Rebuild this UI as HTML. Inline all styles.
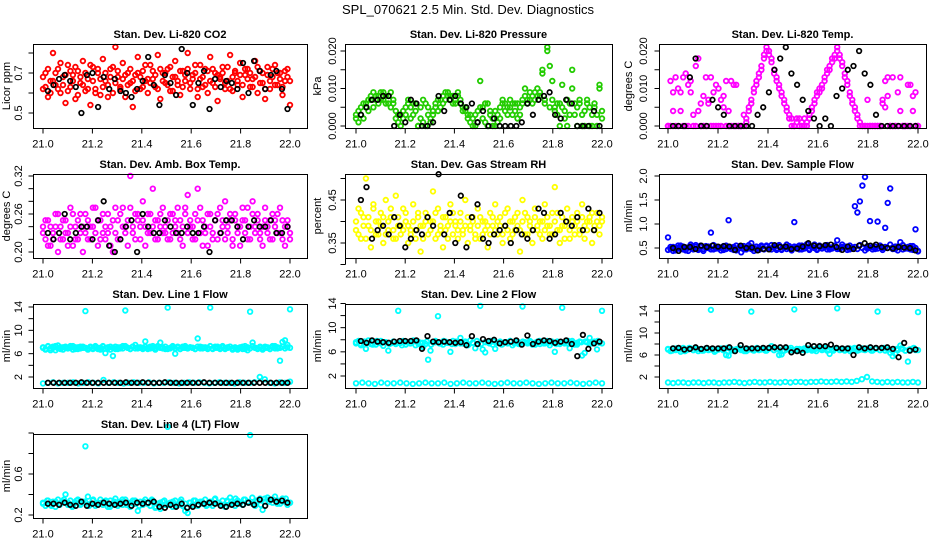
<!DOCTYPE html>
<html><head><meta charset="utf-8"><style>
html,body{margin:0;padding:0;background:#fff;}
svg{display:block;font-family:"Liberation Sans",Arial,sans-serif;}
</style></head><body>
<svg id="chart" width="936" height="540" viewBox="0 0 936 540" xmlns="http://www.w3.org/2000/svg">
<text x="468" y="14" text-anchor="middle" font-size="13">SPL_070621  2.5 Min. Std. Dev. Diagnostics</text>
</svg>
<script>
const xTicks=[21.0,21.2,21.4,21.6,21.8,22.0];
const xTickLabels=["21.0","21.2","21.4","21.6","21.8","22.0"];

const co2Red=[0.62,0.70,0.58,0.66,0.80,0.64,0.72,0.60,0.68,0.55,0.74,0.63,0.69,0.57,0.71,0.65,0.76,0.61,0.67,0.54,0.73,0.62,0.70,0.59,0.77,0.66,0.64,0.72,0.60,0.83,0.68,0.63,0.75,0.58,0.70,0.65,0.53,0.69,0.78,0.62,0.71,0.66,0.60,0.74,0.67,0.63,0.79,0.57,0.70,0.65,0.72,0.61,0.68,0.76,0.64,0.59,0.71,0.66,0.80,0.62,0.69,0.74,0.58,0.67,0.63,0.72,0.60,0.78,0.65,0.70,0.56,0.68,0.73,0.62,0.66,0.79,0.61,0.70,0.64,0.75,0.58,0.69,0.72,0.63,0.67,0.76,0.60,0.71,0.65,0.57,0.73,0.62,0.68,0.74,0.64,0.70,0.59,0.66,0.72,0.54];
const co2Red2=[0.68,0.63,0.72,0.60,0.66,0.70,0.62,0.75,0.64,0.69,0.61,0.71,0.66,0.73,0.59,0.68,0.64,0.70,0.62,0.74,0.66,0.60,0.72,0.67,0.63,0.70,0.58,0.68,0.73,0.65,0.71,0.62,0.67,0.69,0.64,0.72,0.66,0.61,0.70,0.68,0.63,0.74,0.67,0.65,0.71,0.69,0.62,0.72,0.66,0.70,0.64,0.73,0.61,0.68,0.66,0.71,0.63,0.69,0.72,0.65,0.67,0.70,0.62,0.74,0.68,0.64,0.71,0.66,0.72,0.63,0.69,0.67,0.70,0.65,0.73,0.62,0.68,0.71,0.66,0.69,0.64,0.72,0.67,0.70,0.63,0.68,0.73,0.65,0.70,0.62,0.69,0.66,0.72,0.64,0.70,0.67,0.63,0.71,0.68,0.66];
const co2Black=[0.61,0.64,0.67,0.69,0.66,0.63,0.50,0.69,0.70,0.53,0.68,0.62,0.67,0.61,0.60,0.58,0.62,0.66,0.78,0.64,0.54,0.69,0.65,0.59,0.82,0.70,0.54,0.65,0.71,0.52,0.67,0.63,0.66,0.65,0.62,0.75,0.60,0.76,0.71,0.62,0.69,0.71,0.62,0.52];

const presGreen=[0.003,0.001,0.005,0.002,0.006,0.004,0.007,0.005,0.008,0.006,0.009,0.007,0.008,0.006,0.009,0.007,0.004,0.001,0.003,0.002,0.005,0.006,0.002,0.006,0.004,0.000,0.005,0.001,0.006,0.003,0.002,0.004,0.006,0.007,0.005,0.008,0.007,0.009,0.008,0.006,0.007,0.009,0.006,0.005,0.004,0.003,0.001,0.002,0.000,0.004,0.012,0.005,0.001,0.006,0.003,0.000,0.004,0.001,0.002,0.006,0.004,0.005,0.007,0.003,0.006,0.002,0.005,0.007,0.010,0.006,0.007,0.008,0.009,0.010,0.008,0.015,0.006,0.020,0.016,0.012,0.005,0.003,0.006,0.011,0.004,0.000,0.006,0.015,0.003,0.005,0.007,0.000,0.004,0.006,0.000,0.003,0.005,0.000,0.011,0.004];
const presGreen2=[0.002,0.004,0.003,0.006,0.005,0.007,0.008,0.009,0.007,0.008,0.007,0.009,0.006,0.008,0.005,0.006,0.002,0.003,0.000,0.004,0.003,0.007,0.005,0.003,0.006,0.000,0.002,0.007,0.000,0.005,0.001,0.003,0.005,0.004,0.007,0.006,0.009,0.008,0.007,0.008,0.006,0.008,0.007,0.004,0.005,0.002,0.003,0.000,0.003,0.001,0.005,0.002,0.006,0.000,0.004,0.002,0.000,0.003,0.005,0.007,0.006,0.003,0.005,0.006,0.004,0.006,0.003,0.006,0.008,0.007,0.009,0.006,0.007,0.008,0.009,0.014,0.007,0.021,0.005,0.007,0.004,0.006,0.000,0.005,0.002,0.007,0.003,0.010,0.006,0.000,0.006,0.003,0.000,0.007,0.005,0.000,0.006,0.003,0.010,0.002];
const presBlack=[0.003,0.005,0.007,0.007,0.008,0.008,0.000,0.003,0.001,0.007,0.006,0.000,0.000,0.001,0.008,0.004,0.007,0.008,0.006,0.005,0.006,0.001,0.004,0.000,0.002,0.000,0.000,0.000,0.000,0.001,0.006,0.003,0.007,0.008,0.009,0.003,0.002,0.007,0.006,0.000,0.000,0.000,0.004,0.000];

const tempMag=[0.000,0.012,0.009,0.000,0.010,0.004,0.013,0.000,0.011,0.009,0.000,0.016,0.004,0.000,0.008,0.013,0.006,0.000,0.009,0.011,0.000,0.007,0.008,0.000,0.004,0.012,0.000,0.011,0.000,0.000,0.000,0.002,0.004,0.006,0.009,0.011,0.013,0.015,0.018,0.020,0.019,0.017,0.015,0.012,0.010,0.008,0.006,0.004,0.003,0.002,0.000,0.001,0.002,0.001,0.000,0.001,0.003,0.005,0.007,0.008,0.009,0.011,0.012,0.014,0.016,0.017,0.019,0.020,0.019,0.017,0.014,0.011,0.008,0.006,0.004,0.002,0.000,0.000,0.000,0.007,0.000,0.000,0.000,0.000,0.000,0.006,0.012,0.008,0.000,0.013,0.000,0.009,0.004,0.000,0.000,0.000,0.011,0.004,0.009,0.000];
const tempMag2=[0.000,0.000,0.004,0.013,0.000,0.009,0.000,0.014,0.000,0.012,0.003,0.000,0.018,0.006,0.000,0.000,0.007,0.013,0.000,0.000,0.010,0.000,0.005,0.012,0.000,0.000,0.011,0.000,0.000,0.000,0.003,0.001,0.005,0.007,0.010,0.012,0.014,0.016,0.019,0.021,0.020,0.018,0.014,0.013,0.011,0.009,0.007,0.005,0.002,0.000,0.000,0.002,0.000,0.000,0.002,0.000,0.002,0.004,0.006,0.009,0.010,0.010,0.013,0.015,0.015,0.018,0.018,0.021,0.018,0.016,0.013,0.012,0.009,0.007,0.005,0.003,0.001,0.000,0.000,0.000,0.000,0.000,0.000,0.000,0.000,0.007,0.005,0.013,0.000,0.000,0.000,0.000,0.013,0.000,0.000,0.011,0.000,0.008,0.000,0.000];
const tempBlack=[0.000,0.000,0.000,0.013,0.018,0.000,0.000,0.007,0.005,0.003,0.000,0.000,0.000,0.000,0.000,0.003,0.005,0.009,0.015,0.018,0.021,0.014,0.011,0.007,0.004,0.002,0.000,0.002,0.000,0.008,0.010,0.015,0.016,0.020,0.014,0.011,0.003,0.000,0.000,0.000,0.000,0.000,0.000,0.000];

const ambMag=[0.24,0.22,0.25,0.21,0.23,0.26,0.20,0.24,0.22,0.25,0.23,0.27,0.21,0.24,0.22,0.26,0.20,0.23,0.25,0.22,0.24,0.27,0.21,0.25,0.23,0.22,0.26,0.24,0.20,0.23,0.25,0.22,0.27,0.24,0.21,0.32,0.23,0.26,0.25,0.22,0.28,0.24,0.26,0.23,0.30,0.25,0.22,0.24,0.27,0.23,0.25,0.22,0.26,0.24,0.23,0.25,0.21,0.27,0.29,0.24,0.22,0.26,0.30,0.23,0.25,0.24,0.21,0.26,0.23,0.25,0.22,0.27,0.24,0.28,0.23,0.25,0.22,0.26,0.24,0.21,0.25,0.23,0.27,0.22,0.28,0.24,0.26,0.23,0.21,0.25,0.24,0.22,0.26,0.25,0.23,0.27,0.22,0.24,0.25,0.23];
const ambMag2=[0.23,0.25,0.21,0.24,0.22,0.24,0.26,0.22,0.25,0.23,0.21,0.24,0.26,0.22,0.25,0.23,0.24,0.26,0.22,0.24,0.27,0.23,0.25,0.22,0.26,0.24,0.23,0.21,0.25,0.27,0.22,0.26,0.24,0.23,0.25,0.27,0.24,0.22,0.26,0.24,0.25,0.21,0.23,0.26,0.24,0.22,0.25,0.26,0.23,0.24,0.22,0.26,0.23,0.25,0.27,0.22,0.24,0.26,0.23,0.25,0.24,0.22,0.25,0.27,0.21,0.23,0.26,0.24,0.22,0.25,0.26,0.23,0.25,0.22,0.24,0.26,0.21,0.25,0.23,0.24,0.27,0.25,0.22,0.24,0.26,0.23,0.25,0.22,0.24,0.27,0.23,0.25,0.22,0.24,0.26,0.23,0.25,0.21,0.24,0.22];
const ambBlack=[0.23,0.22,0.23,0.26,0.22,0.23,0.24,0.24,0.22,0.25,0.28,0.21,0.20,0.22,0.24,0.25,0.20,0.26,0.24,0.23,0.23,0.25,0.24,0.23,0.23,0.24,0.23,0.23,0.24,0.20,0.25,0.23,0.25,0.25,0.24,0.22,0.24,0.25,0.24,0.24,0.25,0.23,0.23,0.24];

const rhYellow=[0.38,0.43,0.36,0.41,0.50,0.39,0.34,0.44,0.37,0.40,0.42,0.35,0.45,0.38,0.41,0.36,0.46,0.39,0.37,0.43,0.40,0.35,0.38,0.44,0.36,0.41,0.33,0.39,0.42,0.37,0.40,0.47,0.36,0.43,0.38,0.34,0.41,0.39,0.44,0.37,0.40,0.36,0.42,0.38,0.45,0.35,0.39,0.41,0.37,0.43,0.36,0.40,0.38,0.34,0.42,0.39,0.44,0.37,0.41,0.35,0.39,0.43,0.36,0.40,0.38,0.42,0.33,0.45,0.37,0.41,0.39,0.35,0.43,0.38,0.40,0.36,0.44,0.39,0.37,0.42,0.48,0.38,0.35,0.41,0.39,0.43,0.36,0.40,0.37,0.42,0.38,0.44,0.36,0.40,0.41,0.35,0.39,0.42,0.37,0.40];
const rhYellow2=[0.40,0.37,0.42,0.39,0.36,0.41,0.38,0.43,0.40,0.37,0.39,0.41,0.37,0.40,0.43,0.38,0.36,0.41,0.39,0.38,0.42,0.39,0.37,0.40,0.38,0.42,0.39,0.36,0.40,0.41,0.38,0.40,0.42,0.37,0.39,0.41,0.38,0.36,0.40,0.42,0.39,0.38,0.40,0.37,0.39,0.41,0.38,0.40,0.36,0.39,0.41,0.37,0.40,0.39,0.37,0.41,0.38,0.40,0.39,0.37,0.42,0.38,0.40,0.37,0.41,0.39,0.38,0.40,0.42,0.37,0.40,0.38,0.41,0.39,0.37,0.40,0.38,0.41,0.39,0.37,0.40,0.42,0.38,0.39,0.36,0.40,0.38,0.41,0.39,0.40,0.37,0.41,0.39,0.38,0.40,0.42,0.38,0.40,0.39,0.41];
const rhBlack=[0.45,0.48,0.36,0.38,0.39,0.37,0.41,0.39,0.34,0.36,0.38,0.37,0.41,0.39,0.51,0.37,0.42,0.35,0.46,0.34,0.41,0.44,0.36,0.35,0.37,0.38,0.39,0.35,0.38,0.37,0.36,0.38,0.43,0.42,0.36,0.37,0.42,0.40,0.39,0.41,0.38,0.43,0.38,0.42];

const flowBlue=[0.72,0.48,0.52,0.45,0.50,0.55,0.47,0.51,0.44,0.53,0.49,0.56,0.46,0.52,0.48,0.54,0.50,0.82,0.47,0.53,0.49,0.51,0.46,0.55,1.08,0.48,0.52,0.45,0.50,0.41,0.54,0.47,0.51,0.60,0.49,0.53,0.46,0.52,0.48,0.55,0.50,0.47,0.53,0.49,0.56,0.46,0.51,0.48,0.54,0.50,1.04,0.52,0.47,0.55,0.49,0.53,0.46,0.51,0.57,0.48,0.52,0.50,0.54,0.47,0.51,0.49,0.55,0.66,0.48,0.52,0.50,0.53,0.47,0.51,1.37,1.24,1.47,1.80,1.98,0.49,1.06,0.52,0.48,1.05,0.54,0.50,0.92,1.44,1.74,0.51,0.48,0.53,0.62,0.47,0.51,0.49,0.54,0.46,0.89,0.44];
const flowBlue2=[0.46,0.52,0.44,0.50,0.55,0.48,0.53,0.45,0.51,0.57,0.47,0.52,0.49,0.55,0.44,0.50,0.53,0.47,0.56,0.49,0.51,0.45,0.54,0.48,0.52,0.50,0.46,0.55,0.49,0.53,0.47,0.51,0.56,0.48,0.44,0.52,0.50,0.55,0.47,0.53,0.49,0.56,0.51,0.46,0.54,0.48,0.52,0.57,0.50,0.45,0.53,0.49,0.55,0.47,0.51,0.58,0.48,0.53,0.50,0.46,0.55,0.49,0.52,0.56,0.47,0.51,0.54,0.48,0.50,0.57,0.53,0.46,0.55,0.49,0.52,0.48,0.56,0.50,0.45,0.54,0.51,0.47,0.53,0.49,0.55,0.46,0.52,0.50,0.57,0.48,0.53,0.45,0.51,0.56,0.49,0.52,0.47,0.54,0.50,0.43];
const flowBlack=[0.50,0.44,0.52,0.52,0.48,0.55,0.52,0.55,0.53,0.54,0.53,0.46,0.55,0.50,0.51,0.45,0.48,0.47,0.56,0.52,0.53,0.48,0.49,0.53,0.60,0.55,0.54,0.56,0.57,0.52,0.46,0.53,0.48,0.55,0.60,0.55,0.57,0.52,0.50,0.49,0.52,0.51,0.50,0.45];

const l1Cyan=[7.0,6.7,7.3,6.9,7.2,6.6,7.4,6.8,7.1,7.0,6.9,7.3,6.7,7.1,6.8,7.2,7.0,13.3,6.9,7.2,6.8,7.1,7.0,6.7,7.3,6.1,6.9,7.2,5.6,6.8,7.1,6.9,7.3,13.4,7.0,6.8,7.2,7.5,6.9,7.1,7.0,8.1,6.8,7.2,7.0,6.9,7.3,7.9,7.0,6.8,13.9,6.9,7.1,6.0,7.2,6.8,7.0,7.3,6.9,7.1,7.0,6.8,8.6,7.2,6.9,7.1,7.0,13.9,6.8,7.2,7.0,6.9,7.3,6.8,7.1,7.2,6.9,7.0,6.7,7.1,6.8,7.3,6.6,13.2,7.9,7.0,6.9,7.2,6.7,7.0,7.1,6.8,7.3,6.9,7.1,4.8,8.0,8.3,7.5,13.6];
const l1Cyan2=[7.1,6.8,7.2,6.6,7.0,7.3,6.9,7.1,6.7,7.2,6.9,7.0,7.3,6.8,7.1,6.9,7.2,7.0,6.7,7.1,6.9,7.3,6.8,7.0,7.2,6.9,7.1,6.7,7.0,7.2,6.8,7.1,6.9,7.3,7.0,6.8,7.2,6.9,7.1,7.0,6.8,7.2,7.0,6.9,7.3,6.7,7.1,7.0,6.9,7.2,6.8,7.0,7.3,6.9,7.1,6.8,7.2,7.0,6.9,7.1,7.0,6.8,7.2,6.9,7.1,7.0,6.8,7.3,6.9,7.0,7.2,6.8,7.1,6.9,7.0,7.2,6.7,7.1,6.9,7.0,7.2,6.8,7.1,6.9,7.3,7.0,6.8,7.1,6.9,7.2,7.0,6.8,7.1,7.3,6.9,7.0,7.2,6.9,7.1,7.0];
const l1Low=[0.9,1.0,1.1,0.9,1.0,1.0,1.1,0.9,1.0,1.1,1.0,0.9,1.5,1.0,1.1,1.0,0.9,1.0,1.1,1.0,1.0,1.1,0.9,1.0,1.0,1.1,1.0,0.9,1.0,1.1,1.0,1.1,1.0,0.9,1.0,1.1,1.0,1.0,0.9,1.1,1.0,1.0,1.1,2.0,1.6,1.0,0.9,1.1,1.0,1.2];
const l1Black=[1.0,1.0,1.0,1.0,1.0,1.0,1.1,1.0,1.0,1.0,1.0,1.0,1.0,1.0,1.1,1.0,1.0,1.1,1.0,1.0,1.0,1.1,1.0,1.0,1.0,1.0,1.0,1.0,1.1,1.0,1.0,1.0,1.0,1.0,1.0,1.0,1.0,1.0,1.0,1.0,1.0,1.0,1.0,1.0];

const l2Cyan=[7.4,7.8,7.1,7.6,6.5,7.9,7.3,7.7,7.2,7.5,7.8,7.0,7.6,6.2,7.4,7.7,7.3,12.8,7.5,7.8,7.2,7.6,7.4,7.9,7.1,7.7,7.5,6.8,7.3,4.7,6.2,7.6,7.8,11.9,7.4,7.2,7.7,7.5,6.0,7.8,7.3,7.6,8.3,7.4,7.7,7.1,7.9,7.5,6.6,7.3,13.6,6.4,5.9,7.6,7.8,7.2,6.5,7.5,7.7,7.3,7.6,7.4,7.8,7.1,7.5,7.7,7.3,13.5,7.6,7.4,7.8,7.2,7.5,7.7,7.3,7.6,7.4,7.8,7.1,7.5,6.0,7.7,7.3,13.3,7.6,7.4,6.6,7.8,7.2,7.5,7.7,5.4,5.8,7.6,8.3,7.4,7.7,6.4,7.5,12.8];
const l2Cyan2=[7.6,7.3,7.7,7.5,7.2,7.8,7.4,7.6,7.3,7.7,7.5,7.1,7.6,7.4,7.8,7.3,7.5,7.7,7.2,7.6,7.4,7.8,7.5,7.3,7.7,7.4,7.6,7.2,7.5,7.8,7.3,7.6,7.4,7.7,7.5,7.2,7.6,7.8,7.4,7.3,7.7,7.5,7.6,7.2,7.8,7.4,7.5,7.7,7.3,7.6,7.4,7.8,7.5,7.2,7.6,7.7,7.3,7.5,7.8,7.4];
const l2Low=[0.8,0.9,0.8,0.7,0.9,0.8,0.8,0.9,0.8,0.7,0.8,0.9,0.8,0.8,0.9,0.7,0.8,0.9,0.8,0.8,0.9,0.8,0.7,0.8,0.9,0.8,0.8,0.9,0.8,0.7,0.8,0.9,0.8,0.8,0.9,0.8,0.7,0.8,0.9,0.8];
const l2Black=[7.8,7.5,7.9,7.7,7.6,7.5,7.7,7.8,7.8,7.8,7.9,6.5,8.6,7.7,7.6,7.7,7.6,7.5,7.6,7.1,8.6,7.3,8.1,7.8,8.0,7.4,7.6,7.7,7.9,7.2,8.7,7.3,7.7,7.9,7.8,7.5,7.7,7.9,7.3,5.3,8.8,6.5,7.4,7.7];

const l3Cyan=[7.0,6.7,7.2,6.9,7.1,6.6,7.3,6.8,7.0,7.2,6.9,7.1,6.7,7.0,6.8,7.2,6.9,14.2,7.1,6.8,7.0,7.2,6.9,6.0,5.9,7.1,6.8,7.0,7.2,6.9,7.1,6.7,7.0,13.9,6.8,7.2,6.9,7.1,7.0,6.8,7.2,7.6,6.9,7.1,6.0,6.1,6.8,7.2,7.0,6.9,14.3,7.1,6.8,7.0,7.2,6.9,7.1,6.8,7.0,7.2,7.4,6.9,7.1,6.8,6.2,7.0,7.2,14.5,6.9,7.1,6.8,7.0,7.2,6.9,7.1,6.8,7.0,7.2,6.9,7.1,7.0,6.8,7.2,13.9,6.9,7.1,6.8,7.0,6.4,5.8,6.2,6.9,7.7,7.1,6.8,4.8,7.0,7.2,6.9,13.8];
const l3Cyan2=[7.1,6.8,7.2,7.0,6.7,7.3,6.9,7.1,6.8,7.2,7.0,6.6,7.1,6.9,7.3,6.8,7.0,7.2,6.7,7.1,6.9,7.3,7.0,6.8,7.2,6.9,7.1,6.7,7.0,7.3,6.8,7.1,6.9,7.2,7.0,6.7,7.1,7.3,6.9,6.8,7.2,7.0,7.1,6.7,7.3,6.9,7.0,7.2,6.8,7.1,6.9,7.3,7.0,6.7,7.1,7.2,6.8,7.0,7.3,6.9];
const l3Low=[1.0,0.9,1.0,1.0,0.9,1.0,1.0,0.9,1.0,1.0,0.9,1.0,1.0,1.1,1.0,0.9,1.0,1.1,1.0,1.0,1.1,1.0,1.0,1.1,1.0,1.1,1.1,1.0,1.1,1.1,1.2,1.1,1.1,1.2,1.1,1.2,1.1,1.3,1.6,2.0,1.2,1.1,1.0,1.1,1.0,1.1,1.0,1.0,1.1,1.0];
const l3Black=[7.2,7.3,7.0,7.1,7.4,7.1,7.3,7.2,7.2,7.2,7.4,6.7,7.8,7.2,7.2,7.2,7.3,7.3,7.4,7.4,7.4,6.5,6.7,6.4,7.8,7.6,7.6,7.6,7.9,7.3,7.2,7.2,6.0,7.4,7.2,7.4,7.3,7.3,7.4,7.1,5.6,8.2,6.8,7.0];

const l4Cyan=[0.32,0.29,0.34,0.30,0.33,0.28,0.35,0.31,0.33,0.40,0.30,0.34,0.29,0.32,0.35,0.30,0.33,0.87,0.38,0.31,0.34,0.29,0.32,0.35,0.30,0.33,0.28,0.34,0.31,0.36,0.29,0.33,0.30,0.35,0.32,0.28,0.34,0.31,0.24,0.33,0.30,0.35,0.32,0.29,0.34,0.27,0.31,0.26,0.33,0.30,1.06,0.32,0.28,0.34,0.30,0.33,0.29,0.24,0.22,0.32,0.30,0.34,0.29,0.33,0.31,0.35,0.30,0.33,0.29,0.36,0.32,0.30,0.34,0.28,0.33,0.37,0.31,0.29,0.34,0.32,0.30,0.35,0.33,0.98,0.31,0.29,0.34,0.36,0.25,0.33,0.37,0.35,0.32,0.38,0.34,0.31,0.36,0.33,0.30,0.32];
const l4Cyan2=[0.31,0.34,0.29,0.33,0.30,0.35,0.32,0.28,0.34,0.31,0.33,0.29,0.35,0.30,0.32,0.34,0.28,0.33,0.31,0.35,0.30,0.32,0.34,0.29,0.33,0.31,0.35,0.28,0.32,0.34,0.30,0.33,0.29,0.35,0.31,0.32,0.34,0.30,0.33,0.29,0.31,0.35,0.32,0.30,0.34,0.33,0.36,0.31,0.35,0.32,0.37,0.34,0.30,0.36,0.33,0.35,0.31,0.34,0.36,0.32];
const l4Black=[0.31,0.31,0.30,0.32,0.30,0.29,0.33,0.29,0.31,0.30,0.32,0.31,0.30,0.31,0.32,0.29,0.32,0.31,0.32,0.33,0.28,0.27,0.30,0.28,0.31,0.27,0.28,0.30,0.31,0.32,0.31,0.29,0.28,0.30,0.31,0.30,0.32,0.30,0.35,0.29,0.35,0.33,0.34,0.32];

const co2Ticks=[0.5,0.6,0.7,0.8], co2Labels=["0.5","","0.7",""];
const presTicks=[0,0.005,0.01,0.015,0.02], presLabels=["0.000","","0.010","","0.020"];
const ambTicks=[0.20,0.22,0.24,0.26,0.28,0.30,0.32], ambLabels=["0.20","","","0.26","","","0.32"];
const rhTicks=[0.30,0.35,0.40,0.45,0.50], rhLabels=["","0.35","","0.45",""];
const flowTicks=[0.5,1.0,1.5,2.0], flowLabels=["0.5","1.0","1.5","2.0"];
const lineTicks=[2,4,6,8,10,12,14], lineLabels=["2","","6","","10","","14"];
const l4Ticks=[0.2,0.4,0.6,0.8,1.0], l4Labels=["0.2","","0.6","",""];

const NS="http://www.w3.org/2000/svg";
const svg=document.getElementById('chart');
const cols=[{L:33,R:307,a:43,b:290,tx:18,ax:6},{L:345,R:612,a:356,b:602,tx:332,ax:317},{L:659,R:926,a:668,b:918,tx:643,ax:628}];
const rowTops=[44,174,304,434], H=84;
const C={red:"#ff0000",green:"#22cc00",mag:"#ff00ff",yel:"#ffff00",blue:"#0000ff",cyan:"#00ffff",blk:"#000000"};

const panels=[
 {t:"Stan. Dev. Li-820 CO2",yl:"Licor ppm",c:0,r:0,ym:[0.5,69,0.7,29],tk:co2Ticks,tl:co2Labels,s:[[co2Red,C.red],[co2Red2,C.red],[co2Black,C.blk,1]]},
 {t:"Stan. Dev. Li-820 Pressure",yl:"kPa",c:1,r:0,ym:[0,82,0.02,7],tk:presTicks,tl:presLabels,s:[[presGreen,C.green],[presGreen2,C.green],[presBlack,C.blk,1]]},
 {t:"Stan. Dev. Li-820 Temp.",yl:"degrees C",c:2,r:0,ym:[0,82,0.02,7],tk:presTicks,tl:presLabels,s:[[tempMag,C.mag],[tempMag2,C.mag],[tempBlack,C.blk,1]]},
 {t:"Stan. Dev. Amb. Box Temp.",yl:"degrees C",c:0,r:1,ym:[0.20,78,0.32,2],tk:ambTicks,tl:ambLabels,s:[[ambMag,C.mag],[ambMag2,C.mag],[ambBlack,C.blk,1]]},
 {t:"Stan. Dev. Gas Stream RH",yl:"percent",c:1,r:1,ym:[0.35,69,0.45,26],tk:rhTicks,tl:rhLabels,s:[[rhYellow,C.yel],[rhYellow2,C.yel],[rhBlack,C.blk,1]]},
 {t:"Stan. Dev. Sample Flow",yl:"ml/min",c:2,r:1,ym:[0.5,74,2.0,2],tk:flowTicks,tl:flowLabels,s:[[flowBlue,C.blue],[flowBlue2,C.blue],[flowBlack,C.blk,1]]},
 {t:"Stan. Dev. Line 1 Flow",yl:"ml/min",c:0,r:2,ym:[2,73,14,3],tk:lineTicks,tl:lineLabels,s:[[l1Cyan,C.cyan],[l1Cyan2,C.cyan],[l1Low,C.cyan],[l1Black,C.blk,1]]},
 {t:"Stan. Dev. Line 2 Flow",yl:"ml/min",c:1,r:2,ym:[2,72,14,-0.5],tk:lineTicks,tl:lineLabels,s:[[l2Cyan,C.cyan],[l2Cyan2,C.cyan],[l2Low,C.cyan],[l2Black,C.blk,1]]},
 {t:"Stan. Dev. Line 3 Flow",yl:"ml/min",c:2,r:2,ym:[2,73,14,7],tk:lineTicks,tl:lineLabels,s:[[l3Cyan,C.cyan],[l3Cyan2,C.cyan],[l3Low,C.cyan],[l3Black,C.blk,1]]},
 {t:"Stan. Dev. Line 4 (LT) Flow",yl:"ml/min",c:0,r:3,ym:[0.2,81,0.6,40],tk:l4Ticks,tl:l4Labels,s:[[l4Cyan,C.cyan],[l4Cyan2,C.cyan],[l4Black,C.blk,1]]}
];

function mk(tag,attrs,parent){const e=document.createElementNS(NS,tag);for(const k in attrs)e.setAttribute(k,attrs[k]);parent.appendChild(e);return e;}

panels.forEach((p,pi)=>{
  const col=cols[p.c], top=rowTops[p.r];
  const g=mk('g',{},svg);
  
  
  const xs=v=>col.a+(v-21)*(col.b-col.a);
  const ys=v=>top+p.ym[1]+(v-p.ym[0])*(p.ym[3]-p.ym[1])/(p.ym[2]-p.ym[0]);
  p.s.forEach((ser,si)=>{
    const vals=ser[0], isBlk=ser[2];
    const sg=mk('g',{fill:'none',stroke:ser[1],'stroke-width':isBlk?1.7:1.8},g);
    
    
    const n=vals.length;
    vals.forEach((v,i)=>{
      const xv=isBlk?21.02+i*0.97/(n-1):21+i/(n-1);
      const c=mk('circle',{cx:xs(xv).toFixed(1),cy:ys(v).toFixed(1),r:2.3},sg);
      
      
    });
  });
  const box=mk('rect',{x:col.L+0.5,y:top+0.5,width:col.R-col.L,height:H,fill:'none',stroke:'#000','stroke-width':1},g);
  
  
  const tt=mk('text',{x:(col.L+col.R)/2,y:top-6,'text-anchor':'middle','font-size':11,'font-weight':'bold'},g);
  tt.textContent=p.t;
  
  
  const bot=top+H+0.5;
  mk('line',{x1:xs(xTicks[0]),x2:xs(xTicks[xTicks.length-1]),y1:bot,y2:bot,stroke:'#000'},g);
  xTicks.forEach((t,i)=>{
    const x=xs(t);
    const tl=mk('line',{x1:x,x2:x,y1:bot,y2:bot+5,stroke:'#000'},g);
    
    
    const lb=mk('text',{x:x,y:bot+19,'text-anchor':'middle','font-size':11},g);
    lb.textContent=xTickLabels[i];
    
    
  });
  const lx=col.L+0.5;
  mk('line',{x1:lx,x2:lx,y1:ys(p.tk[0]),y2:ys(p.tk[p.tk.length-1]),stroke:'#000'},g);
  p.tk.forEach((t,i)=>{
    const y=ys(t);
    const tl=mk('line',{x1:lx-5,x2:lx,y1:y,y2:y,stroke:'#000'},g);
    
    
    if(p.tl[i]){
      const lb=mk('text',{x:col.tx+4,y:y,'text-anchor':'middle','font-size':11,transform:`rotate(-90 ${col.tx+4} ${y})`},g);
      lb.textContent=p.tl[i];
      
      
    }
  });
  const cy=top+H/2, ax=col.ax+4;
  const yt=mk('text',{x:ax,y:cy,'text-anchor':'middle','font-size':11,transform:`rotate(-90 ${ax} ${cy})`},g);
  yt.textContent=p.yl;
  
  
});
</script>
</body></html>
